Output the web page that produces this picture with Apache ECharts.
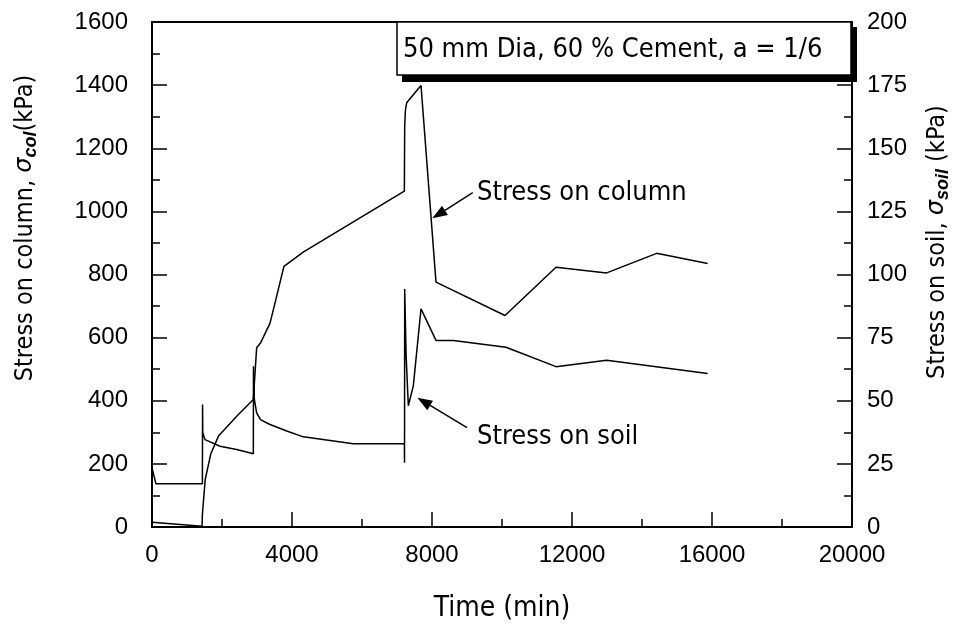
<!DOCTYPE html>
<html>
<head>
<meta charset="utf-8">
<script src="https://cdn.jsdelivr.net/npm/echarts@6/dist/echarts.min.js"></script>
<style>
  html, body { margin: 0; padding: 0; background: #fff; }
  #chart { width: 957px; height: 632px; }
</style>
</head>
<body>
<div id="chart"></div>
<script>
// time in minutes, stress in kPa
const colTime = [0, 1430, 1440, 1520, 1680, 1900, 2420, 2895, 2990, 3105, 3370, 3540, 3770, 4320, 7210, 7220, 7240, 7276, 7686, 8114, 10086, 11543, 12990, 14419, 15876]
const colStress = [15, 2, 40, 150, 232, 288, 351, 404, 568, 584, 645, 721, 826, 871, 1064, 1270, 1320, 1344, 1399, 776, 670, 823, 805, 867, 835]

const soilTime = [0, 114, 1440, 1445, 1450, 1514, 1943, 2419, 2895, 2900, 2924, 2990, 3100, 3371, 3848, 4324, 5752, 7210, 7215, 7220, 7260, 7324, 7467, 7686, 8114, 8610, 10114, 11543, 12990, 15876]
const soilStress = [23.4, 17.1, 17.1, 48.5, 37.3, 34.6, 32, 30.7, 29, 63.7, 50.5, 45.2, 42.5, 40.6, 38, 35.7, 33, 33, 25.4, 94.3, 68, 48, 56, 86.4, 73.9, 73.9, 71.2, 63.5, 66, 60.8]

const xTicks = { min: 0, max: 20000, step: 4000 }
const colTicks = { min: 0, max: 1600, step: 200 }
const soilTicks = { min: 0, max: 200, step: 25 }

const labelFont = 'Liberation Sans, Arial, sans-serif'
const textFont = '"DejaVu Sans Condensed", sans-serif'

const chart = echarts.init(document.getElementById('chart'))

function arrow(x1, y1, x2, y2) {
  // line from (x1,y1) to tip (x2,y2) with filled head
  const dx = x2 - x1, dy = y2 - y1
  const len = Math.sqrt(dx * dx + dy * dy)
  const ux = dx / len, uy = dy / len
  const hl = 15, hw = 5.5
  const bx = x2 - ux * hl, by = y2 - uy * hl
  return [
    { type: 'line', shape: { x1, y1, x2: bx, y2: by }, style: { stroke: '#000', lineWidth: 1.5 } },
    { type: 'polygon', shape: { points: [[x2, y2], [bx - uy * hw, by + ux * hw], [bx + uy * hw, by - ux * hw]] }, style: { fill: '#000' } }
  ]
}

const axisCommon = {
  axisLine: { show: true, lineStyle: { color: '#000', width: 2 } },
  axisTick: { show: true, inside: true, length: 15, lineStyle: { color: '#000', width: 1.5 } },
  minorTick: { show: true, splitNumber: 2, length: 8, lineStyle: { color: '#000', width: 1.5 } },
  splitLine: { show: false },
  axisLabel: { color: '#000', fontSize: 24, fontFamily: labelFont, formatter: v => String(v) }
}

const subRich = {
  s: { fontSize: 24, fontStyle: 'italic', fontFamily: 'DejaVu Sans' },
  sub: { fontSize: 18, fontStyle: 'italic', fontWeight: 'bold', fontFamily: labelFont, padding: [12, 0, 0, 0], verticalAlign: 'bottom' }
}

chart.setOption({
  animation: false,
  grid: { left: 152, top: 22, width: 700, height: 505, show: true, borderColor: '#000', borderWidth: 2, backgroundColor: 'transparent' },
  xAxis: {
    type: 'value', min: xTicks.min, max: xTicks.max, interval: xTicks.step,
    ...axisCommon,
    axisLabel: { ...axisCommon.axisLabel, margin: 16 }
  },
  yAxis: [
    {
      type: 'value', min: colTicks.min, max: colTicks.max, interval: colTicks.step,
      ...axisCommon,
      axisLabel: { ...axisCommon.axisLabel, margin: 24 }
    },
    {
      type: 'value', position: 'right', min: soilTicks.min, max: soilTicks.max, interval: soilTicks.step,
      ...axisCommon,
      axisLabel: { ...axisCommon.axisLabel, margin: 15 }
    }
  ],
  series: [
    {
      name: 'Stress on column', type: 'line', yAxisIndex: 0, showSymbol: false,
      lineStyle: { color: '#000', width: 1.5 },
      data: colTime.map((t, i) => [t, colStress[i]])
    },
    {
      name: 'Stress on soil', type: 'line', yAxisIndex: 1, showSymbol: false,
      lineStyle: { color: '#000', width: 1.5 },
      data: soilTime.map((t, i) => [t, soilStress[i]])
    }
  ],
  graphic: [
    // title box with drop shadow
    { type: 'rect', z: 10, shape: { x: 402, y: 27, width: 455, height: 55 }, style: { fill: '#000' } },
    { type: 'rect', z: 11, shape: { x: 397, y: 22, width: 454, height: 53 }, style: { fill: '#fff', stroke: '#000', lineWidth: 1.5 } },
    { type: 'text', z: 12, x: 403, y: 50, style: { text: '50 mm Dia, 60 % Cement, a = 1/6', font: '27px ' + textFont, fill: '#000', textVerticalAlign: 'middle' } },

    { type: 'text', z: 12, x: 477, y: 193, style: { text: 'Stress on column', font: '27px ' + textFont, fill: '#000', textVerticalAlign: 'middle' } },
    ...arrow(472.7, 192.7, 432.3, 218.3),
    { type: 'text', z: 12, x: 477, y: 437, style: { text: 'Stress on soil', font: '27px ' + textFont, fill: '#000', textVerticalAlign: 'middle' } },
    ...arrow(467, 427.7, 417.3, 397.7),

    { type: 'text', z: 12, x: 502, y: 609, style: { text: 'Time (min)', font: '28px ' + textFont, fill: '#000', textAlign: 'center', textVerticalAlign: 'middle' } },

    {
      type: 'text', z: 12, x: 25, y: 228, rotation: Math.PI / 2,
      style: {
        text: 'Stress on column, {s|σ}{sub|col}(kPa)',
        font: '25px ' + textFont, fill: '#000', textAlign: 'center', textVerticalAlign: 'middle',
        rich: subRich
      }
    },
    {
      type: 'text', z: 12, x: 937, y: 242, rotation: Math.PI / 2,
      style: {
        text: 'Stress on soil, {s|σ}{sub|soil} (kPa)',
        font: '25px ' + textFont, fill: '#000', textAlign: 'center', textVerticalAlign: 'middle',
        rich: subRich
      }
    }
  ]
})
</script>
</body>
</html>
